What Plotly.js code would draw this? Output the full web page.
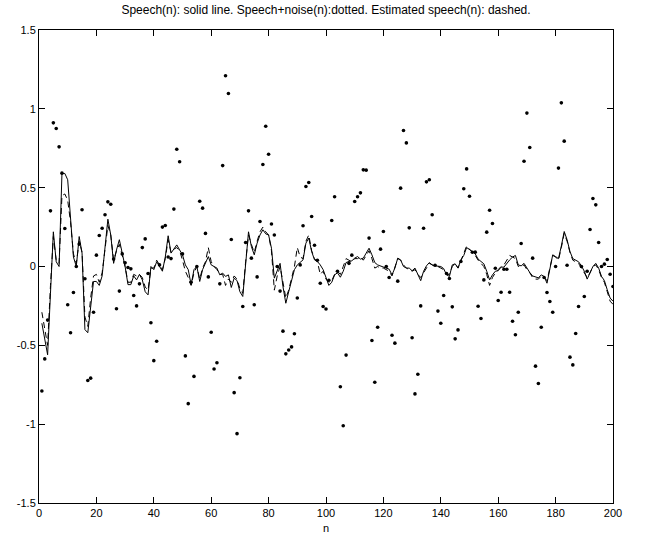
<!DOCTYPE html>
<html>
<head>
<meta charset="utf-8">
<script src="https://cdn.plot.ly/plotly-3.0.1.min.js"></script>
<style>html,body{margin:0;padding:0;background:#fff;}#chart{width:654px;height:540px;}</style>
</head>
<body>
<div id="chart"></div>
<script>
// sample index n = 1..200
const nValues = Array.from({length: 200}, (_, i) => i + 1);

// Speech(n): solid line
const speech = [
-0.36,-0.465,-0.56,-0.17,0.22,0.03,0.0,0.59,0.59,0.55,
0.32,0.06,0.0,0.19,0.085,-0.40,-0.42,-0.25,-0.095,-0.095,
-0.12,-0.06,0.13,0.30,0.20,0.02,0.105,0.17,0.085,0.0,
-0.115,-0.115,-0.06,-0.085,-0.05,-0.085,-0.16,-0.18,0.0,-0.02,
0.03,0.0,-0.03,0.06,0.195,0.085,0.115,0.137,0.105,0.074,
0.01,-0.02,-0.116,-0.02,0.0,-0.095,-0.02,0.02,0.063,0.01,
0.0,-0.01,-0.053,-0.042,-0.063,-0.053,-0.133,-0.074,-0.089,-0.16,
-0.19,0.042,0.22,0.127,0.074,0.148,0.2,0.233,0.207,0.2,
0.116,-0.074,-0.02,0.02,-0.127,-0.233,-0.16,-0.095,-0.02,0.01,
0.025,0.042,0.148,0.18,0.095,0.042,0.032,0.01,-0.02,-0.074,
-0.12,-0.1,-0.053,-0.04,-0.068,-0.03,0.025,0.032,0.036,0.053,
0.063,0.047,0.053,0.085,0.116,0.074,0.025,0.01,0.004,-0.004,
-0.01,-0.017,-0.053,-0.01,0.053,0.042,0.0,-0.01,-0.01,-0.027,
-0.01,-0.053,-0.09,-0.03,0.004,0.025,0.01,0.004,0.0,0.0,
-0.013,-0.053,-0.063,0.01,0.017,-0.01,0.042,0.07,0.12,0.11,
0.095,0.08,0.047,0.032,0.017,-0.03,-0.085,-0.053,-0.03,-0.027,
-0.004,-0.004,0.02,0.042,0.06,0.07,0.01,0.004,0.02,-0.01,
-0.038,-0.06,-0.068,-0.072,-0.053,-0.063,-0.106,-0.02,0.074,0.063,
0.05,0.13,0.222,0.17,0.095,0.05,0.042,0.03,0.004,-0.03,
-0.08,-0.042,0.0,0.02,-0.01,-0.063,-0.089,-0.148,-0.2,-0.22
];

// Speech+noise(n): dotted
const noisy = [
-0.79,-0.586,-0.34,0.353,0.911,0.875,0.759,0.592,0.241,-0.243,
-0.42,-0.165,0.0,0.142,0.36,-0.078,-0.723,-0.708,-0.29,0.072,
0.197,0.243,0.328,0.41,0.395,0.047,-0.268,-0.156,0.08,0.023,
-0.006,-0.015,-0.184,-0.25,-0.11,0.12,0.175,-0.044,-0.357,-0.597,
-0.474,0.01,0.25,0.26,0.06,0.05,0.364,0.744,0.664,0.08,
-0.567,-0.87,-0.1,-0.697,0.0,0.414,0.37,0.21,-0.066,-0.417,
-0.65,-0.61,-0.11,0.64,1.21,1.097,0.171,-0.80,-1.06,-0.706,
-0.254,0.152,0.353,0.053,-0.243,-0.066,0.285,0.647,0.89,0.712,
0.27,0.2,0.0,-0.156,-0.41,-0.554,-0.53,-0.51,-0.427,-0.2,
0.01,0.258,0.507,0.533,0.317,0.135,0.04,-0.106,-0.254,-0.27,
-0.087,0.292,0.442,-0.03,-0.763,-1.01,-0.562,0.02,0.072,0.412,
0.442,0.467,0.613,0.611,0.18,-0.469,-0.734,-0.385,0.11,0.222,
0.0,-0.07,-0.436,-0.486,-0.093,0.497,0.863,0.784,0.245,-0.452,
-0.808,-0.683,-0.25,0.243,0.537,0.55,0.328,0.008,-0.283,-0.36,
-0.184,-0.044,-0.076,-0.256,-0.459,-0.402,0.032,0.493,0.619,0.446,
0.09,0.091,-0.252,-0.33,-0.085,0.218,0.357,0.273,-0.011,-0.216,
-0.163,-0.017,-0.017,-0.163,-0.347,-0.433,-0.29,0.146,0.668,0.973,
0.755,0.053,-0.632,-0.742,-0.385,-0.07,-0.165,-0.222,-0.29,0.0,
0.624,1.038,0.795,0.008,-0.575,-0.624,-0.425,-0.254,0.0,-0.19,
-0.03,0.235,0.431,0.391,0.152,0.0,0.015,0.044,-0.049,-0.127
];

// Estimated speech(n): dashed
const estimate = [
-0.29,-0.40,-0.50,-0.12,0.19,0.04,0.02,0.45,0.46,0.42,
0.28,0.08,0.02,0.16,0.09,-0.32,-0.38,-0.2,-0.06,-0.05,
-0.1,-0.04,0.12,0.26,0.2,0.04,0.1,0.14,0.07,0.0,
-0.1,-0.1,-0.05,-0.06,-0.05,-0.07,-0.13,-0.15,-0.01,-0.01,
0.04,0.01,-0.02,0.05,0.17,0.09,0.11,0.12,0.1,0.04,
-0.03,-0.07,-0.12,-0.04,0.0,-0.08,-0.01,0.03,0.12,0.03,
0.0,-0.02,-0.05,-0.05,-0.12,-0.08,-0.1,-0.06,-0.08,-0.14,
-0.17,0.03,0.2,0.14,0.09,0.16,0.22,0.25,0.22,0.2,
0.1,-0.15,-0.06,0.0,-0.1,-0.2,-0.15,-0.08,0.0,0.12,
0.06,0.05,0.16,0.2,0.1,0.05,0.03,-0.05,-0.03,-0.08,
-0.1,-0.09,-0.05,-0.03,-0.05,0.0,0.05,0.04,0.03,0.05,
0.05,0.06,0.04,0.07,0.1,0.05,-0.01,0.0,-0.01,-0.01,
-0.02,-0.03,-0.06,-0.01,0.05,0.04,0.01,-0.01,-0.02,-0.03,
-0.02,-0.05,-0.07,-0.04,-0.01,0.02,0.01,0.0,0.0,-0.01,
-0.02,-0.05,-0.05,0.0,0.02,-0.01,0.04,0.08,0.13,0.11,
0.09,0.07,0.04,0.02,0.0,-0.05,-0.12,-0.07,-0.04,-0.02,
0.0,0.01,0.04,0.07,0.06,0.05,0.0,0.0,0.01,-0.02,
-0.04,-0.07,-0.08,-0.08,-0.06,-0.07,-0.09,-0.01,0.07,0.06,
0.04,0.12,0.21,0.16,0.09,0.04,0.03,0.02,-0.01,-0.04,
-0.07,-0.04,0.0,0.01,-0.02,-0.07,-0.1,-0.16,-0.22,-0.24
];

const xTickVals = [0, 20, 40, 60, 80, 100, 120, 140, 160, 180, 200];
const yTickVals = [-1.5, -1, -0.5, 0, 0.5, 1, 1.5];
const yTickText = ['-1.5', '-1', '-0.5', '0', '0.5', '1', '1.5'];

const FONT = 'Liberation Sans, Arial, sans-serif';

const traces = [
  {x: nValues, y: noisy, mode: 'markers', type: 'scatter',
   marker: {color: '#000', size: 3.6, symbol: 'circle', line: {width: 0}}, hoverinfo: 'skip'},
  {x: nValues, y: speech, mode: 'lines', type: 'scatter',
   line: {color: '#000', width: 1}, hoverinfo: 'skip'},
  {x: nValues, y: estimate, mode: 'lines', type: 'scatter',
   line: {color: '#000', width: 1, dash: '6px,4px'}, hoverinfo: 'skip'}
];

const axisCommon = {
  showgrid: false, zeroline: false, showline: true, linecolor: '#000', linewidth: 1,
  mirror: 'ticks', ticks: 'inside', ticklen: 6, tickcolor: '#000', tickwidth: 1,
  tickfont: {family: FONT, size: 11, color: '#000'}
};

const layout = {
  width: 654, height: 540,
  margin: {l: 39, r: 41, t: 30, b: 37},
  paper_bgcolor: '#fff', plot_bgcolor: '#fff',
  showlegend: false,
  title: {text: 'Speech(n): solid line. Speech+noise(n):dotted. Estimated speech(n): dashed.',
          font: {family: FONT, size: 12, color: '#000'},
          x: 0.5, xref: 'paper', y: 0.982, yref: 'container', yanchor: 'middle'},
  xaxis: Object.assign({}, axisCommon, {range: [0, 200], tickvals: xTickVals,
          title: {text: 'n', standoff: 6, font: {family: FONT, size: 11, color: '#000'}}}),
  yaxis: Object.assign({}, axisCommon, {range: [-1.5, 1.5], tickvals: yTickVals, ticktext: yTickText})
};

Plotly.newPlot('chart', traces, layout, {staticPlot: true, displayModeBar: false});
</script>
</body>
</html>
